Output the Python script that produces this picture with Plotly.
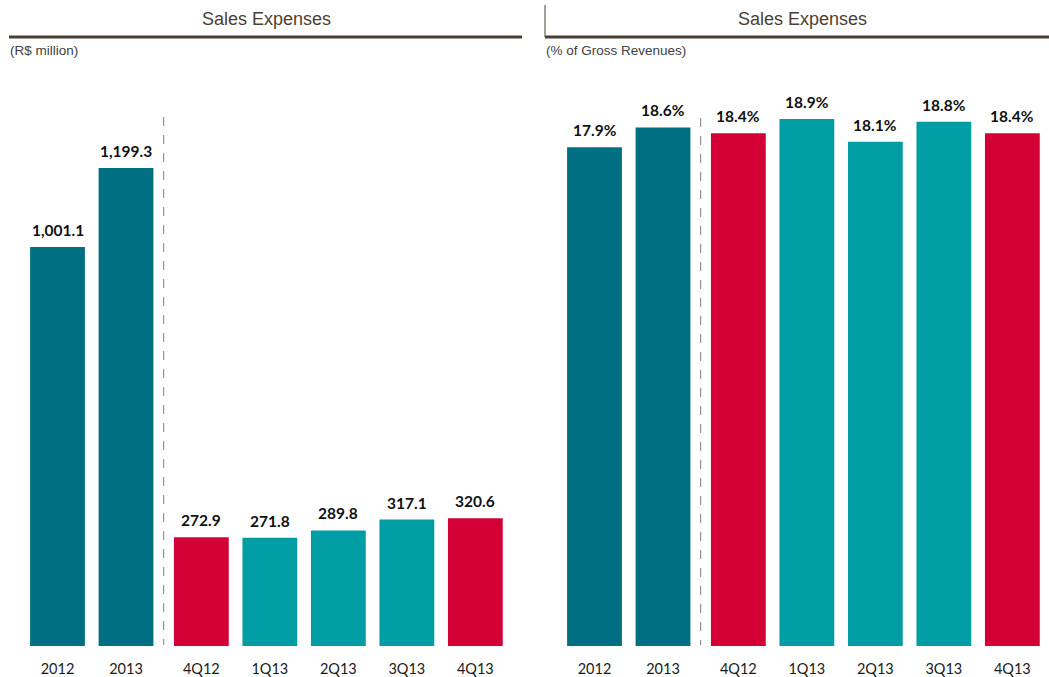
import plotly.graph_objects as go

# data
categories = ["2012", "2013", "4Q12", "1Q13", "2Q13", "3Q13", "4Q13"]
expenses = [1001.1, 1199.3, 272.9, 271.8, 289.8, 317.1, 320.6]
pct_gross = [17.9, 18.6, 18.4, 18.9, 18.1, 18.8, 18.4]
expense_labels = ["1,001.1", "1,199.3", "272.9", "271.8", "289.8", "317.1", "320.6"]
pct_labels = [f"{v:.1f}%" for v in pct_gross]

# the annual bars sit a little apart from the quarters
xpos = [0, 1, 2.1, 3.1, 4.1, 5.1, 6.1]

DARK_TEAL = "#006F82"
TEAL = "#009EA4"
RED = "#D20034"
bar_colors = [DARK_TEAL, DARK_TEAL, RED, TEAL, TEAL, TEAL, RED]
BROWN = "#4B3F35"

W, H = 1049, 677

def px(x):
    return x / W

def py(y):
    return 1 - y / H

fig = go.Figure()

label_font = dict(family="Lato, Calibri, sans-serif", size=15.5, color="#111111", weight="bold")

fig.add_trace(go.Bar(
    x=xpos, y=expenses, marker=dict(color=bar_colors, line_width=0),
    width=0.8, xaxis="x", yaxis="y", hoverinfo="skip",
))
fig.add_trace(go.Bar(
    x=xpos, y=pct_gross, marker=dict(color=bar_colors, line_width=0),
    width=0.8, xaxis="x2", yaxis="y2", hoverinfo="skip",
))

# value labels above the bars
for xa, ya, vals, labels in [("x", "y", expenses, expense_labels),
                             ("x2", "y2", pct_gross, pct_labels)]:
    for xv, v, t in zip(xpos, vals, labels):
        fig.add_annotation(x=xv, y=v, xref=xa, yref=ya, text=t, showarrow=False,
                           yanchor="bottom", yshift=6, font=label_font)

tick_font = dict(family="Lato, Calibri, sans-serif", size=14.5, color="#1a1a1a")
ydom = [py(646), py(80)]

xcommon = dict(tickmode="array", tickvals=xpos, ticktext=categories,
               showgrid=False, zeroline=False, showline=False,
               ticks="outside", ticklen=10, tickcolor="rgba(0,0,0,0)",
               tickfont=tick_font, fixedrange=True)
ycommon = dict(visible=False, showgrid=False, zeroline=False, fixedrange=True)

fig.update_layout(
    width=W, height=H,
    margin=dict(l=0, r=0, t=0, b=0),
    paper_bgcolor="white", plot_bgcolor="white",
    showlegend=False,
    bargap=0.2,
    xaxis=dict(domain=[0, px(530)], range=[-57.5 / 68.5, (530 - 57.5) / 68.5], **xcommon),
    yaxis=dict(domain=ydom, range=[0, 566 / 0.3986], **ycommon),
    xaxis2=dict(domain=[px(540), 1], range=[(540 - 594.5) / 68.5, (1049 - 594.5) / 68.5],
                anchor="y2", **xcommon),
    yaxis2=dict(domain=ydom, range=[0.31, 0.31 + 566 / 28.35], anchor="x2", **ycommon),
)

# headers
title_font = dict(family="Liberation Sans, Arial, sans-serif", size=18, color=BROWN)
sub_font = dict(family="Liberation Sans, Arial, sans-serif", size=13.5, color="#404040")
fig.add_annotation(x=px(266), y=py(19), xref="paper", yref="paper", text="Sales Expenses",
                   showarrow=False, font=title_font, xanchor="center", yanchor="middle")
fig.add_annotation(x=px(802), y=py(19), xref="paper", yref="paper", text="Sales Expenses",
                   showarrow=False, font=title_font, xanchor="center", yanchor="middle")
fig.add_annotation(x=px(8), y=py(50), xref="paper", yref="paper", text="(R$ million)",
                   showarrow=False, font=sub_font, xanchor="left", yanchor="middle")
fig.add_annotation(x=px(544), y=py(50), xref="paper", yref="paper", text="(% of Gross Revenues)",
                   showarrow=False, font=sub_font, xanchor="left", yanchor="middle")

fig.add_shape(type="line", xref="paper", yref="paper", x0=px(9), x1=px(522), y0=py(37), y1=py(37),
              line=dict(color=BROWN, width=3))
fig.add_shape(type="line", xref="paper", yref="paper", x0=px(545), x1=1, y0=py(37), y1=py(37),
              line=dict(color=BROWN, width=3))
fig.add_shape(type="line", xref="paper", yref="paper", x0=px(545), x1=px(545), y0=py(5), y1=py(37),
              line=dict(color=BROWN, width=1))

# dashed separators between annual and quarterly bars
fig.add_shape(type="line", xref="x", yref="paper", x0=1.55, x1=1.55, y0=py(117), y1=py(645),
              line=dict(color="#7F7F7F", width=1, dash="dash"))
fig.add_shape(type="line", xref="x2", yref="paper", x0=1.55, x1=1.55, y0=py(118), y1=py(645),
              line=dict(color="#7F7F7F", width=1, dash="dash"))

# drop the default page margin so the figure sits at the window's corner
fig.write_html("out.html", config={"displayModeBar": False},
               post_script="document.body.style.margin='0';")
